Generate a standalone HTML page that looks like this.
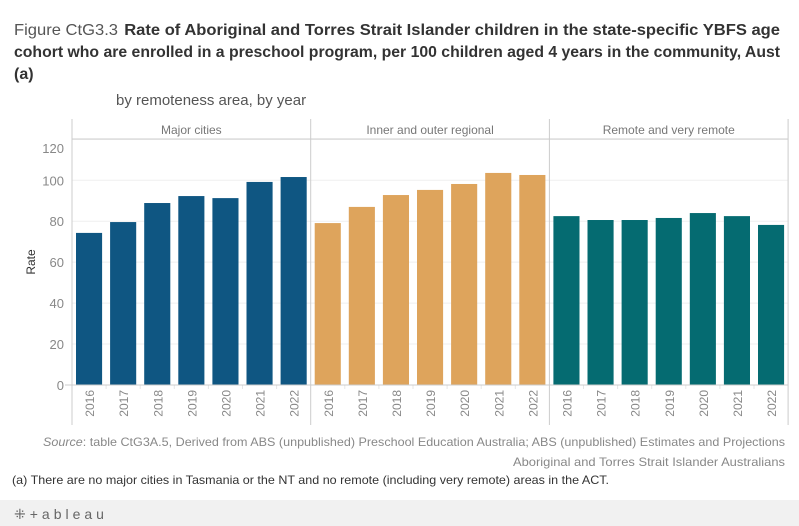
<!DOCTYPE html>
<html><head><meta charset="utf-8"><style>
body{margin:0;background:#fff;font-family:"Liberation Sans",sans-serif}
svg{display:block}
</style></head><body>
<svg id="chart" width="799" height="526" xmlns="http://www.w3.org/2000/svg">
<g fill="#333" font-size="16">
<text x="14" y="35" textLength="766" lengthAdjust="spacingAndGlyphs"><tspan fill="#555">Figure CtG3.3</tspan><tspan font-weight="bold" dx="6">Rate of Aboriginal and Torres Strait Islander children in the state-specific YBFS age</tspan></text>
<text x="14" y="57" font-weight="bold" textLength="766" lengthAdjust="spacingAndGlyphs">cohort who are enrolled in a preschool program, per 100 children aged 4 years in the community, Aust</text>
<text x="14" y="79" font-weight="bold">(a)</text>
</g>
<text x="116" y="105" font-size="15" fill="#555">by remoteness area, by year</text>
<g id="plot"></g>
<g font-family="'Liberation Sans Narrow','Liberation Sans',sans-serif" font-size="12">
<text x="785" y="446" text-anchor="end" fill="#888" textLength="742" lengthAdjust="spacingAndGlyphs"><tspan font-style="italic">Source</tspan>: table CtG3A.5, Derived from ABS (unpublished) Preschool Education Australia; ABS (unpublished) Estimates and Projections</text>
<text x="785" y="466" text-anchor="end" fill="#888" textLength="272" lengthAdjust="spacingAndGlyphs">Aboriginal and Torres Strait Islander Australians</text>
<text x="12" y="484" fill="#333" textLength="597" lengthAdjust="spacingAndGlyphs">(a) There are no major cities in Tasmania or the NT and no remote (including very remote) areas in the ACT.</text>
</g>
<rect x="0" y="500" width="799" height="26" fill="#f1f1f1"/>
<text x="14" y="519" font-size="14" fill="#666" letter-spacing="4">⁜+ableau</text>
</svg>
<script>
const panels = ["Major cities", "Inner and outer regional", "Remote and very remote"];
const years = ["2016","2017","2018","2019","2020","2021","2022"];
const majorCities = [74.3, 79.6, 88.9, 92.3, 91.3, 99.2, 101.6];
const regional = [79.1, 87.0, 92.8, 95.3, 98.2, 103.6, 102.6];
const remote = [82.5, 80.6, 80.6, 81.6, 84.0, 82.5, 78.2];
const yTicks = [0, 20, 40, 60, 80, 100, 120];

const series = [majorCities, regional, remote];
const colors = ["#0f5682", "#dea45c", "#056b71"];
const NS = "http://www.w3.org/2000/svg";
const plotG = document.getElementById("plot");
const pLeft = 72, pw = 238.7, y0 = 385, ppu = 2.047, yTop = 119, hdr = 139, yBottom = 425;
const yScale = v => y0 - v * ppu;
const band = pw / years.length;
function el(tag, attrs, parent) { const e = document.createElementNS(NS, tag); for (const k in attrs) e.setAttribute(k, attrs[k]); (parent || plotG).appendChild(e); return e; }

yTicks.forEach(t => {
  if (t > 0) {
    const l = el("line", {x1: pLeft, x2: pLeft + 3 * pw, y1: yScale(t), y2: yScale(t), stroke: "#efefef"});
    
    
  }
  const tx = el("text", {x: 64, y: Math.max(yScale(t) + 5, 153), "text-anchor": "end", "font-size": 13, fill: "#888"});
  tx.textContent = t;
  
  
});
const yt = el("text", {transform: "translate(35,262) rotate(-90)", "text-anchor": "middle", "font-size": 12, fill: "#333"});
yt.textContent = "Rate";



panels.forEach((p, pi) => {
  const px = pLeft + pi * pw;
  const ht = el("text", {x: px + pw / 2, y: 134, "text-anchor": "middle", "font-size": 12, fill: "#777"});
  ht.textContent = p;
  
  
  series[pi].forEach((v, i) => {
    const bx = px + i * band + 4;
    const r = el("rect", {x: bx, y: yScale(v), width: band - 8, height: v * ppu, fill: colors[pi]});
    
    
    const lbl = el("text", {transform: `translate(${px + i * band + band / 2 + 5},390) rotate(-90)`, "text-anchor": "end", "font-size": 12, fill: "#888"});
    lbl.textContent = years[i];
    
    
    if (i > 0) el("line", {x1: px + i * band, x2: px + i * band, y1: y0, y2: y0 + 4, stroke: "#e6e6e6"});
  });
});
for (let i = 0; i <= 3; i++) el("line", {x1: pLeft + i * pw, x2: pLeft + i * pw, y1: yTop, y2: yBottom, stroke: "#ccc"});
el("line", {x1: pLeft, x2: pLeft + 3 * pw, y1: hdr, y2: hdr, stroke: "#ccc"});
el("line", {x1: 65, x2: pLeft + 3 * pw, y1: y0, y2: y0, stroke: "#ccc"});
</script>
</body></html>
